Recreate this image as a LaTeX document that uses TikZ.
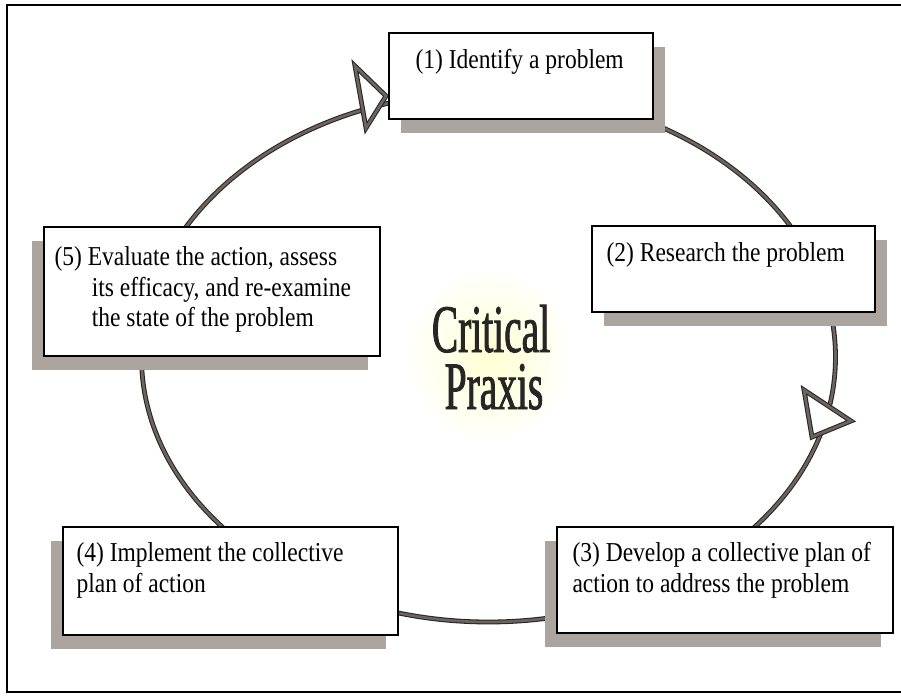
\documentclass[tikz,border=0pt]{standalone}
\usepackage{fontspec}
\setmainfont{Liberation Serif}[FakeStretch=0.86]
\newfontfamily\praxisfont[FakeStretch=0.58, FakeBold=1.2]{Liberation Serif}
\usetikzlibrary{shadows}

\definecolor{shadowgray}{RGB}{172,164,158}
\definecolor{arcfill}{RGB}{108,100,94}
\definecolor{inkgray}{RGB}{40,38,36}
\newcommand{\steptxt}{\fontsize{20.5}{23}\selectfont}

\tikzset{
  stepbox/.style={draw=black, line width=1.1pt, fill=white, inner sep=0pt},
  shadowright/.style={general shadow={shadow xshift=9pt, shadow yshift=-10.5pt, fill=shadowgray}},
  shadowleft/.style={general shadow={shadow xshift=-9pt, shadow yshift=-10.5pt, fill=shadowgray}},
  steptext/.style={anchor=north west, inner sep=0pt, align=left, font=\steptxt, text=black},
  titletext/.style={anchor=base, inner sep=0pt, text=inkgray, font=\praxisfont\fontsize{51}{43}\selectfont},
  cycleline/.style={draw=inkgray, line width=0.8pt, double=arcfill, double distance=2pt},
  openhead/.style={cycleline, fill=white, line join=miter}
}

\begin{document}
\begin{tikzpicture}[x=0.75pt, y=-0.75pt]
    \useasboundingbox (0,0) rectangle (901,696);

    % frame of the figure
    \draw[black, line width=1pt] (901,5) -| (7,692) -- (901,692);

    % glow behind the title
    \shade[inner color=yellow!18, outer color=white] (490,356) ellipse [x radius=85, y radius=90];

    % the cycle
    \draw[cycleline] (488.5,357) ellipse [x radius=347, y radius=265];

    % open arrow heads
    \draw[openhead] (355,66) -- (386,96) -- (366,128) -- cycle;
    \draw[openhead] (804,390) -- (851,421) -- (812,437) -- cycle;

    % boxes
    \node[stepbox, shadowright, minimum width=198pt, minimum height=64.5pt] (s1) at (521,76) {};
    \node[stepbox, shadowright, minimum width=212.25pt, minimum height=64.5pt] (s2) at (733.5,269) {};
    \node[stepbox, shadowleft, minimum width=252pt, minimum height=79.5pt] (s3) at (725,580) {};
    \node[stepbox, shadowleft, minimum width=251.25pt, minimum height=81pt] (s4) at (230.5,581) {};
    \node[stepbox, shadowleft, minimum width=252pt, minimum height=96.75pt] (s5) at (212,291.5) {};

    % texts
    \node[steptext] (t1) at ([shift={(27,17)}]s1.north west) {(1) Identify a problem};
    \node[steptext] (t2) at ([shift={(15,17)}]s2.north west) {(2) Research the problem};
    \node[steptext] (t3) at ([shift={(16,16)}]s3.north west) {(3) Develop a collective plan of\\action to address the problem};
    \node[steptext] (t4) at ([shift={(14,16)}]s4.north west) {(4) Implement the collective\\plan of action};
    \node[steptext] (t5) at ([shift={(11,20)}]s5.north west) {(5) Evaluate the action, assess\\\hspace*{28pt}its efficacy, and re-examine\\\hspace*{28pt}the state of the problem};

    % title
    \node[titletext] (cp1) at (491,352) {Critical};
    \node[titletext] (cp2) at (494,409) {Praxis};
\end{tikzpicture}
\end{document}
